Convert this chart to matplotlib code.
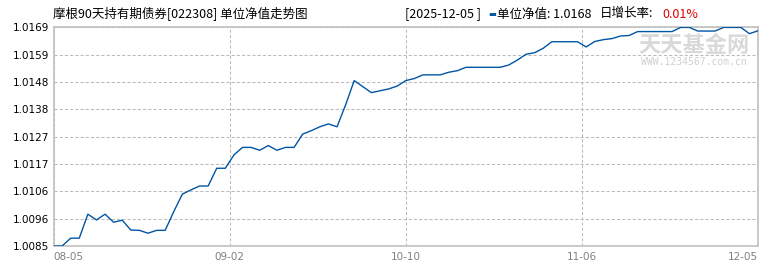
import numpy as np
import matplotlib.pyplot as plt

plt.rcParams['font.family'] = ['Noto Sans CJK SC', 'DejaVu Sans']

# unit NAV, one point per trading day (2025-08-05 .. 2025-12-05)
nav = [1.00852, 1.00852, 1.00882, 1.00882, 1.00974, 1.00952, 1.00974, 1.00943,
       1.00951, 1.00913, 1.00912, 1.00901, 1.00912, 1.00912, 1.00984, 1.01051,
       1.01067, 1.01082, 1.01082, 1.01150, 1.01150, 1.01201, 1.01230, 1.01230,
       1.01219, 1.01237, 1.01219, 1.01230, 1.01230, 1.01281, 1.01294, 1.01309,
       1.01320, 1.01309, 1.01393, 1.01486, 1.01463, 1.01440, 1.01447, 1.01454,
       1.01465, 1.01486, 1.01494, 1.01508, 1.01508, 1.01508, 1.01518, 1.01524,
       1.01537, 1.01537, 1.01537, 1.01537, 1.01537, 1.01546, 1.01565, 1.01587,
       1.01593, 1.01610, 1.01635, 1.01635, 1.01635, 1.01635, 1.01615, 1.01636,
       1.01643, 1.01647, 1.01657, 1.01659, 1.01674, 1.01674, 1.01674, 1.01674,
       1.01674, 1.01690, 1.01690, 1.01676, 1.01676, 1.01676, 1.01690, 1.01690,
       1.01690, 1.01666, 1.01677]
date_labels = ['08-05', '09-02', '10-10', '11-06', '12-05']

title = '摩根90天持有期债券[022308] 单位净值走势图'
last_date = '[2025-12-05 ]'
last_nav = '1.0168'
day_growth = '0.01%'

n = len(nav)
x = np.arange(n)
ymin, ymax = min(nav), max(nav)

fig = plt.figure(figsize=(7.7, 2.7), dpi=100)
ax = fig.add_axes([53.5 / 770, 24 / 270, 704.5 / 770, 218.6 / 270])

ax.plot(x, nav, color='#0055a5', lw=1.0, zorder=3)

ax.set_xlim(0, n - 1)
ax.set_ylim(ymin, ymax)

yt = np.linspace(ymin, ymax, 9)
ax.set_yticks(yt)
ax.set_yticklabels(['%.4f' % v for v in yt], fontsize=7.5, color='black',
                   family='DejaVu Sans')
xt = np.linspace(0, n - 1, 5)
ax.set_xticks(xt)
ax.set_xticklabels(date_labels, fontsize=7.5, color='#808080', family='DejaVu Sans')
xl = ax.get_xticklabels()
xl[0].set_ha('left')
xl[-1].set_ha('right')
ax.tick_params(length=0, pad=3)
ax.tick_params(axis='x', pad=4)

ax.grid(True, color='#bbbbbb', linestyle=(0, (3, 2)), lw=0.75)
for s in ax.spines.values():
    s.set_color('#c0c0c0')
    s.set_linewidth(1.2)

# watermark
ax.text(0.909, 0.915, '天天基金网', transform=ax.transAxes, fontsize=16,
        fontweight='bold', color='#d9d9d9', ha='center', va='center', zorder=1)
ax.text(0.909, 0.842, 'WWW.1234567.com.cn', transform=ax.transAxes, fontsize=7,
        color='#d0d0d0', ha='center', va='center', family='DejaVu Sans Mono', zorder=1)

# header
ty = 1 - 14 / 270
fig.text(53 / 770, ty, title, fontsize=9, va='center', ha='left')
fig.text(405 / 770, ty, last_date, fontsize=9, va='center', ha='left')
fig.text(488 / 770, ty, '▬', fontsize=6, color='#0055a5', va='center', ha='left',
         family='DejaVu Sans')
fig.text(497 / 770, ty, '单位净值: ' + last_nav, fontsize=9, va='center', ha='left')
fig.text(600 / 770, ty, '日增长率:', fontsize=9, va='center', ha='left')
fig.text(662 / 770, ty, day_growth, fontsize=9, color='#e00000', va='center', ha='left')

fig.savefig('out.png', dpi=100)
